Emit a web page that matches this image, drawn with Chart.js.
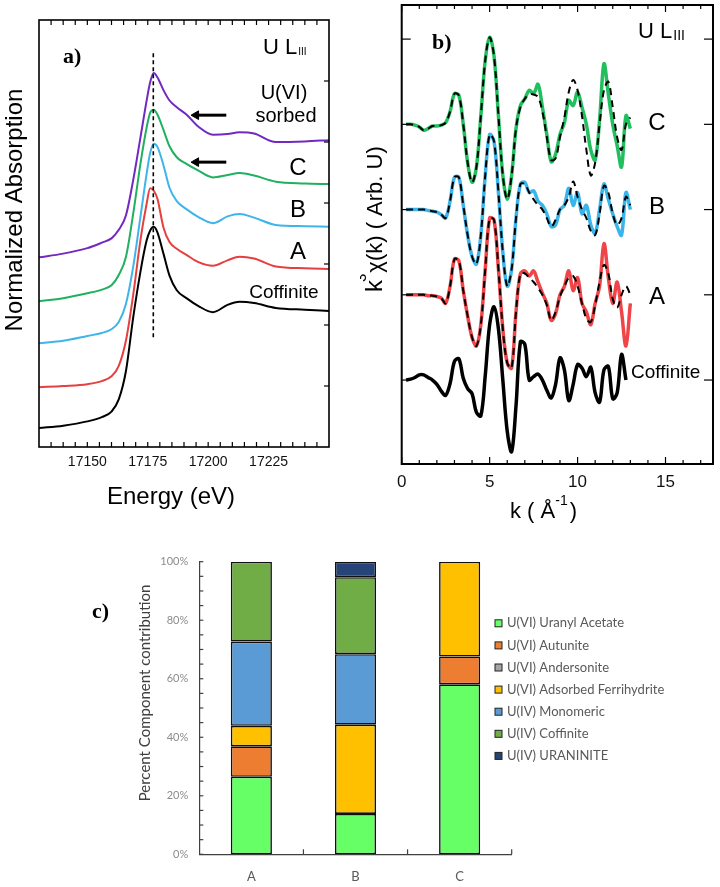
<!DOCTYPE html>
<html>
<head>
<meta charset="utf-8">
<script src="https://cdn.jsdelivr.net/npm/chart.js@4.4.1/dist/chart.umd.min.js"></script>
<style>
  html, body { margin: 0; padding: 0; background: #fff; }
  #wrap { position: relative; width: 720px; height: 887px; overflow: hidden; }
  canvas { position: absolute; }
</style>
</head>
<body>
<div id="wrap">
  <canvas id="xanes" width="360" height="525" style="left:0;top:0"></canvas>
  <canvas id="exafs" width="360" height="525" style="left:360px;top:0"></canvas>
  <canvas id="lcf" width="720" height="362" style="left:0;top:525px"></canvas>
</div>
<script>
// ---------- a) XANES, U L3 edge ----------
const energy = [17130, 17140, 17150, 17156, 17160, 17163, 17166, 17169, 17172, 17174.5, 17176, 17177.5, 17179,
  17181.5, 17184, 17187, 17191, 17196, 17202, 17208, 17213, 17219, 17228, 17240, 17250];
const xanesCoffinite = [0.31, 0.35, 0.42, 0.49, 0.58, 0.78, 1.25, 2.13, 2.88, 3.38, 3.55, 3.61, 3.52,
  3.17, 2.81, 2.57, 2.44, 2.31, 2.21, 2.33, 2.38, 2.36, 2.28, 2.25, 2.23];
const xanesA = [0.98, 1.0, 1.03, 1.08, 1.16, 1.33, 1.75, 2.5, 3.4, 3.98, 4.24, 4.2, 4.07,
  3.6, 3.36, 3.25, 3.15, 3.03, 2.97, 3.06, 3.12, 3.09, 2.96, 2.93, 2.92];
const xanesB = [1.70, 1.74, 1.82, 1.87, 1.93, 2.05, 2.35, 2.96, 3.78, 4.47, 4.82, 4.97, 4.92,
  4.62, 4.25, 4.03, 3.9, 3.77, 3.67, 3.78, 3.82, 3.76, 3.64, 3.62, 3.61];
const xanesC = [2.39, 2.44, 2.52, 2.58, 2.65, 2.82, 3.12, 3.83, 4.65, 5.23, 5.48, 5.53, 5.45,
  5.2, 4.93, 4.75, 4.64, 4.53, 4.42, 4.46, 4.49, 4.45, 4.35, 4.32, 4.31];
const xanesSorbed = [3.11, 3.17, 3.26, 3.35, 3.42, 3.56, 3.8, 4.38, 5.08, 5.67, 5.98, 6.13, 6.06,
  5.85, 5.68, 5.57, 5.45, 5.25, 5.12, 5.13, 5.16, 5.14, 5.0, 5.01, 5.03];
const energyTicks = [17150, 17175, 17200, 17225];
const edgeE = [17177.3, 17177.3];
const edgeY = [1.8, 6.46];
const arrowE = [17195, 17207.5];
const arrowSorbedY = [5.44, 5.44];
const arrowCY = [4.67, 4.67];

// ---------- b) EXAFS k3 chi(k) ----------
const kValues = [0, 0.25, 0.5, 0.75, 1, 1.25, 1.5, 1.75, 2, 2.25, 2.5, 2.75, 3, 3.25, 3.5, 3.75, 4, 4.25, 4.5, 4.75,
  5, 5.25, 5.5, 5.75, 6, 6.25, 6.5, 6.75, 7, 7.25, 7.5, 7.75, 8, 8.25, 8.5, 8.75, 9, 9.25, 9.5, 9.75,
  10, 10.25, 10.5, 10.75, 11, 11.25, 11.5, 11.75, 12, 12.25, 12.5, 12.75, 13];
const chiCoffinite = [null, 0, 0.01, 0.03, 0.06, 0.06, 0.03, 0, -0.05, -0.13, -0.18, -0.04, 0.22, 0.25, 0.02, -0.1, -0.16, -0.38, -0.42, 0.05,
  0.65, 0.86, 0.6, 0.0, -0.6, -0.84, -0.3, 0.45, 0.42, 0.0, 0.04, 0.07, 0.0, -0.12, -0.21, -0.05, 0.26, 0.12, -0.24, -0.05,
  0.18, 0.14, 0.04, 0.15, -0.15, -0.26, 0.12, 0.16, -0.22, -0.15, 0.3, 0.0, null];
const chiA = [null, 0, 0, 0, 0, 0, -0.01, -0.01, -0.02, -0.04, -0.1, 0.1, 0.42, 0.4, 0.05, -0.25, -0.5, -0.6, -0.35, 0.3,
  0.9, 0.88, 0.3, -0.4, -0.8, -0.86, -0.2, 0.25, 0.28, 0.22, 0.28, 0.15, 0.02, -0.1, -0.3, -0.22, 0.0, 0.1, 0.28, 0.05,
  0.2, -0.1, -0.2, -0.35, -0.1, 0.1, 0.6, 0.2, -0.1, 0.15, -0.2, -0.6, -0.1];
const fitA = [null, 0, 0, 0, 0, 0, -0.01, -0.01, -0.02, -0.04, -0.1, 0.1, 0.42, 0.4, 0.05, -0.25, -0.5, -0.6, -0.35, 0.3,
  0.9, 0.88, 0.3, -0.4, -0.8, -0.86, -0.2, 0.25, 0.25, 0.2, 0.15, 0.08, 0.0, -0.12, -0.3, -0.2, -0.02, 0.1, 0.2, 0.22,
  0.1, -0.1, -0.28, -0.32, -0.12, 0.15, 0.35, 0.25, -0.05, -0.15, 0.0, 0.1, 0.0];
const chiB = [null, 0, 0, 0, 0, 0, -0.01, -0.02, -0.03, -0.06, -0.1, 0.1, 0.38, 0.38, 0.05, -0.3, -0.55, -0.64, -0.3, 0.4,
  0.88, 0.8, 0.2, -0.5, -0.9, -0.7, -0.1, 0.3, 0.32, 0.2, 0.22, 0.1, 0.05, -0.05, -0.2, -0.18, 0.0, 0.05, 0.25, 0.05,
  0.2, -0.05, 0.05, -0.18, -0.28, 0.0, 0.3, 0.12, -0.05, -0.2, -0.3, 0.2, 0.0];
const fitB = [null, 0, 0, 0, 0, 0, -0.01, -0.02, -0.03, -0.06, -0.1, 0.1, 0.38, 0.38, 0.05, -0.3, -0.55, -0.64, -0.3, 0.4,
  0.88, 0.8, 0.2, -0.5, -0.9, -0.7, -0.1, 0.3, 0.3, 0.2, 0.12, 0.05, 0.0, -0.1, -0.2, -0.12, 0.0, 0.05, 0.15, 0.33,
  0.15, 0.0, -0.1, -0.25, -0.3, -0.05, 0.28, 0.2, -0.05, -0.18, -0.1, 0.15, 0.05];
const chiC = [null, 0, 0, -0.01, -0.03, -0.07, -0.05, -0.02, -0.02, -0.01, 0.02, 0.15, 0.36, 0.34, 0.0, -0.45, -0.68, -0.5, 0.1, 0.75,
  1.02, 0.8, 0.1, -0.6, -0.88, -0.6, -0.05, 0.22, 0.3, 0.4, 0.36, 0.47, 0.2, -0.12, -0.44, -0.35, -0.12, 0.02, 0.28, 0.22,
  0.38, 0.2, 0.0, -0.3, -0.42, 0.05, 0.71, 0.35, 0.0, -0.25, -0.5, 0.1, -0.05];
const fitC = [null, 0, 0, -0.01, -0.03, -0.07, -0.05, -0.02, -0.02, -0.01, 0.02, 0.15, 0.36, 0.34, 0.0, -0.45, -0.68, -0.5, 0.1, 0.75,
  1.02, 0.8, 0.1, -0.6, -0.88, -0.6, -0.05, 0.2, 0.3, 0.35, 0.35, 0.32, 0.15, -0.15, -0.42, -0.4, -0.15, 0.08, 0.38, 0.52,
  0.4, 0.1, -0.3, -0.6, -0.45, 0.0, 0.4, 0.5, 0.2, -0.15, -0.3, 0.0, 0.08];
const chiOffsets = [0, 1, 2, 3]; // Coffinite, A, B, C stacked one unit apart
const kTicks = [0, 5, 10, 15];

// ---------- c) linear combination fit ----------
const samples = ['A', 'B', 'C'];
const components = ['U(VI) Uranyl Acetate', 'U(VI) Autunite', 'U(VI) Andersonite', 'U(VI) Adsorbed Ferrihydrite',
  'U(IV) Monomeric', 'U(IV) Coffinite', 'U(IV) URANINITE'];
const uranylAcetate = [26.5, 13.8, 58.1];
const autunite = [10.4, 0, 9.5];
const andersonite = [0, 0, 0];
const ferrihydrite = [7.0, 30.5, 32.4];
const monomeric = [28.8, 24.1, 0];
const coffinite = [27.3, 26.3, 0];
const uraninite = [0, 5.3, 0];
const percentTicks = [0, 20, 40, 60, 80, 100];

const SANS = '"Liberation Sans", Arial, sans-serif';
const SERIF = '"Liberation Serif", "Times New Roman", serif';
const CAL = 'Lato, "Open Sans", sans-serif';

function pairs(xs, ys, off) {
  off = off || 0;
  return xs.map((x, i) => ({ x: x, y: ys[i] == null ? null : ys[i] + off }));
}

function txt(ctx, s, x, y, font, align, color) {
  ctx.font = font;
  ctx.textAlign = align || 'left';
  ctx.textBaseline = 'middle';
  ctx.fillStyle = color || '#000';
  ctx.fillText(s, x, y);
}

function line(ctx, x1, y1, x2, y2) {
  ctx.beginPath();
  ctx.moveTo(x1, y1);
  ctx.lineTo(x2, y2);
  ctx.stroke();
}

// "U L" followed by a small "III"
function edgeLabel(ctx, x, y, size, subSize, subDy) {
  txt(ctx, 'U L', x, y, size + 'px ' + SANS);
  const w = ctx.measureText('U L').width;
  txt(ctx, 'III', x + w + 1, y + subDy, subSize + 'px ' + SANS);
}

// frame with inward ticks, drawn from the chart's own scales
function frame(chart, o) {
  const ctx = chart.ctx, a = chart.chartArea, x = chart.scales.x, y = chart.scales.y;
  ctx.save();
  ctx.strokeStyle = '#000';
  ctx.lineWidth = o.lw;
  ctx.strokeRect(a.left, a.top, a.right - a.left, a.bottom - a.top);
  ctx.lineWidth = 1.2;
  for (let v = o.xFrom; v <= o.xTo + 1e-6; v += o.xStep) {
    const px = x.getPixelForValue(v);
    const len = o.xMajor.includes(v) ? o.majorLen : o.minorLen;
    line(ctx, px, a.top, px, a.top + len);
    line(ctx, px, a.bottom, px, a.bottom - len);
  }
  o.yTicks.forEach(v => {
    const py = y.getPixelForValue(v);
    if (o.left) line(ctx, a.left, py, a.left + o.yLen, py);
    line(ctx, a.right, py, a.right - o.yLen, py);
  });
  ctx.restore();
}

function xAxisOpts(min, max, ticks, fontSize, pad, height) {
  return {
    type: 'linear', min: min, max: max,
    grid: { display: false, drawTicks: false }, border: { display: false },
    afterBuildTicks: s => { s.ticks = ticks.map(v => ({ value: v })); },
    afterFit: s => { s.height = height; },
    ticks: { font: { family: SANS, size: fontSize }, color: '#111', padding: pad, maxRotation: 0,
      callback: v => String(v) }
  };
}

function yAxisOpts(min, max, width) {
  return {
    min: min, max: max,
    grid: { display: false, drawTicks: false }, border: { display: false },
    ticks: { display: false },
    afterFit: s => { s.width = width; }
  };
}

// ---------- chart a ----------
const xanesSets = [
  { data: xanesCoffinite, color: '#000000' },
  { data: xanesA, color: '#e5403f' },
  { data: xanesB, color: '#3db5ea' },
  { data: xanesC, color: '#1fb060' },
  { data: xanesSorbed, color: '#7129c2' }
];

new Chart(document.getElementById('xanes'), {
  type: 'line',
  data: {
    datasets: xanesSets.map(s => ({
      data: pairs(energy, s.data), borderColor: s.color, borderWidth: 2, order: 2,
      pointRadius: 0, cubicInterpolationMode: 'monotone'
    })).concat([
      { data: pairs(edgeE, edgeY), borderColor: '#000', borderWidth: 1.6, borderDash: [4, 3], pointRadius: 0, order: 0 },
      { data: pairs(arrowE, arrowSorbedY), borderColor: '#000', backgroundColor: '#000', borderWidth: 3, order: 0,
        pointStyle: 'triangle', pointRotation: 270, pointRadius: [5, 0], pointBorderWidth: 1 },
      { data: pairs(arrowE, arrowCY), borderColor: '#000', backgroundColor: '#000', borderWidth: 3, order: 0,
        pointStyle: 'triangle', pointRotation: 270, pointRadius: [5, 0], pointBorderWidth: 1 }
    ])
  },
  options: {
    responsive: false, animation: false, devicePixelRatio: 1,
    layout: { padding: { left: 0, top: 20, right: 31, bottom: 0 } },
    plugins: { legend: { display: false }, tooltip: { enabled: false } },
    scales: {
      x: xAxisOpts(17130, 17250, energyTicks, 14, 7, 78),
      y: yAxisOpts(0, 7, 39)
    }
  },
  plugins: [{
    id: 'decorA',
    afterDraw(chart) {
      frame(chart, { lw: 1.6, xFrom: 17135, xTo: 17245, xStep: 5, xMajor: [], majorLen: 5, minorLen: 5,
        yTicks: [1, 2, 3, 4, 5, 6], yLen: 5, left: false });
      const ctx = chart.ctx;
      ctx.save();
      txt(ctx, 'a)', 63, 57, 'bold 22px ' + SERIF);
      edgeLabel(ctx, 263, 48, 22, 10, 4);
      txt(ctx, 'U(VI)', 284, 93, '20px ' + SANS, 'center');
      txt(ctx, 'sorbed', 286, 116, '20px ' + SANS, 'center');
      txt(ctx, 'C', 298, 168, '24px ' + SANS, 'center');
      txt(ctx, 'B', 298, 210, '24px ' + SANS, 'center');
      txt(ctx, 'A', 298, 252, '24px ' + SANS, 'center');
      txt(ctx, 'Coffinite', 284, 293, '19px ' + SANS, 'center');
      txt(ctx, 'Energy (eV)', 171, 497, '24px ' + SANS, 'center');
      ctx.translate(15, 210);
      ctx.rotate(-Math.PI / 2);
      txt(ctx, 'Normalized Absorption', 0, 0, '24px ' + SANS, 'center');
      ctx.restore();
    }
  }]
});

// ---------- chart b ----------
const chiSets = [
  { data: chiCoffinite, off: chiOffsets[0], color: '#000000', dash: false },
  { data: chiA, off: chiOffsets[1], color: '#ef4548', dash: false },
  { data: chiB, off: chiOffsets[2], color: '#3ab5ec', dash: false },
  { data: chiC, off: chiOffsets[3], color: '#22bf5f', dash: false },
  { data: fitA, off: chiOffsets[1], color: '#000000', dash: true },
  { data: fitB, off: chiOffsets[2], color: '#000000', dash: true },
  { data: fitC, off: chiOffsets[3], color: '#000000', dash: true }
];

new Chart(document.getElementById('exafs'), {
  type: 'line',
  data: {
    datasets: chiSets.map(s => ({
      data: pairs(kValues, s.data, s.off), borderColor: s.color,
      borderWidth: s.dash ? 2 : 3.5, borderDash: s.dash ? [7, 5] : [],
      order: s.dash ? 0 : 1,
      pointRadius: 0, tension: 0.35, spanGaps: false
    }))
  },
  options: {
    responsive: false, animation: false, devicePixelRatio: 1,
    layout: { padding: { left: 0, top: 5, right: 7, bottom: 0 } },
    plugins: { legend: { display: false }, tooltip: { enabled: false } },
    scales: {
      x: xAxisOpts(0, 17.7, kTicks, 17, 8, 61),
      y: yAxisOpts(-0.985, 4.4, 41.7)
    }
  },
  plugins: [{
    id: 'decorB',
    afterDraw(chart) {
      frame(chart, { lw: 2, xFrom: 0, xTo: 17, xStep: 1, xMajor: [0, 5, 10, 15], majorLen: 7, minorLen: 4,
        yTicks: [0, 1, 2, 3, 4], yLen: 9, left: true });
      const ctx = chart.ctx;
      ctx.save();
      txt(ctx, 'b)', 72, 43, 'bold 22px ' + SERIF);
      edgeLabel(ctx, 278, 32, 22, 14, 4);
      txt(ctx, 'C', 297, 123, '24px ' + SANS, 'center');
      txt(ctx, 'B', 297, 207, '24px ' + SANS, 'center');
      txt(ctx, 'A', 297, 297, '24px ' + SANS, 'center');
      txt(ctx, 'Coffinite', 271, 373, '19px ' + SANS);
      // x title k ( Å^-1 )
      ctx.font = '22px ' + SANS;
      ctx.textBaseline = 'alphabetic';
      ctx.textAlign = 'left';
      ctx.fillStyle = '#000';
      const base = 'k ( Å';
      ctx.fillText(base, 150, 518);
      const w1 = ctx.measureText(base).width;
      ctx.font = '14px ' + SANS;
      ctx.fillText('-1', 150 + w1, 505);
      const w2 = ctx.measureText('-1').width;
      ctx.font = '22px ' + SANS;
      ctx.fillText(')', 150 + w1 + w2 + 2, 518);
      // y title k^3 chi(k) ( Arb. U)
      ctx.translate(15, 292);
      ctx.rotate(-Math.PI / 2);
      ctx.textBaseline = 'middle';
      ctx.font = '24px ' + SANS;
      ctx.fillText('k', 0, 0);
      const wk = ctx.measureText('k').width;
      ctx.font = '15px ' + SANS;
      ctx.fillText('3', wk - 2, -13);
      const w3 = ctx.measureText('3').width;
      ctx.font = '22px ' + SANS;
      ctx.fillText('\u03c7(k) ( Arb. U)', wk + w3 - 1, 1);
      ctx.restore();
    }
  }]
});

// ---------- chart c ----------
const lcfSets = [
  { label: components[0], data: uranylAcetate, color: '#66ff66' },
  { label: components[1], data: autunite, color: '#ed7d31' },
  { label: components[2], data: andersonite, color: '#a5a5a5' },
  { label: components[3], data: ferrihydrite, color: '#ffc000' },
  { label: components[4], data: monomeric, color: '#5b9bd5' },
  { label: components[5], data: coffinite, color: '#70ad47' },
  { label: components[6], data: uraninite, color: '#264478' }
];

new Chart(document.getElementById('lcf'), {
  type: 'bar',
  data: {
    labels: samples,
    datasets: lcfSets.map(s => ({
      label: s.label, data: s.data, backgroundColor: s.color,
      borderColor: '#111', borderWidth: 1.6, borderSkipped: false,
      barPercentage: 1, categoryPercentage: 0.395
    }))
  },
  options: {
    responsive: false, animation: false, devicePixelRatio: 1,
    layout: { padding: { left: 0, top: 36.7, right: 208.3, bottom: 0 } },
    plugins: { legend: { display: false }, tooltip: { enabled: false } },
    scales: {
      x: {
        stacked: true,
        grid: { display: false, drawTicks: false },
        border: { display: true, color: '#404040', width: 1.2 },
        ticks: { font: { family: CAL, size: 13 }, color: '#595959', padding: 15 },
        afterFit: s => { s.height = 32.7; }
      },
      y: {
        stacked: true, min: 0, max: 100,
        grid: { display: false, drawTicks: false },
        border: { display: true, color: '#404040', width: 1.2 },
        afterBuildTicks: s => { s.ticks = percentTicks.map(v => ({ value: v })); },
        ticks: { font: { family: CAL, size: 11 }, color: '#8c8c8c', padding: 11, callback: v => v + '%' },
        afterFit: s => { s.width = 199.3; }
      }
    }
  },
  plugins: [{
    id: 'decorC',
    afterDraw(chart) {
      const ctx = chart.ctx, a = chart.chartArea, x = chart.scales.x, y = chart.scales.y;
      ctx.save();
      ctx.strokeStyle = '#404040';
      ctx.lineWidth = 1.2;
      for (let v = 0; v <= 100; v += 5) {
        const py = y.getPixelForValue(v);
        line(ctx, a.left, py, a.left + 4, py);
      }
      for (let i = 0; i < samples.length; i++) {
        const px = x.getPixelForValue(i) + (x.getPixelForValue(1) - x.getPixelForValue(0)) / 2;
        line(ctx, px, a.bottom, px, a.bottom - 5);
      }
      txt(ctx, 'c)', 92, 87, 'bold 22px ' + SERIF);
      lcfSets.forEach((s, i) => {
        const cy = 98.3 + i * 22.1;
        ctx.fillStyle = s.color;
        ctx.fillRect(495, cy - 3.5, 7, 7);
        ctx.strokeStyle = '#222';
        ctx.lineWidth = 1;
        ctx.strokeRect(495, cy - 3.5, 7, 7);
        txt(ctx, s.label, 507, cy, '13px ' + CAL, 'left', '#595959');
      });
      ctx.translate(145, 168);
      ctx.rotate(-Math.PI / 2);
      txt(ctx, 'Percent Component contribution', 0, 0, '15px ' + CAL, 'center', '#404040');
      ctx.restore();
    }
  }]
});
</script>
</body>
</html>
